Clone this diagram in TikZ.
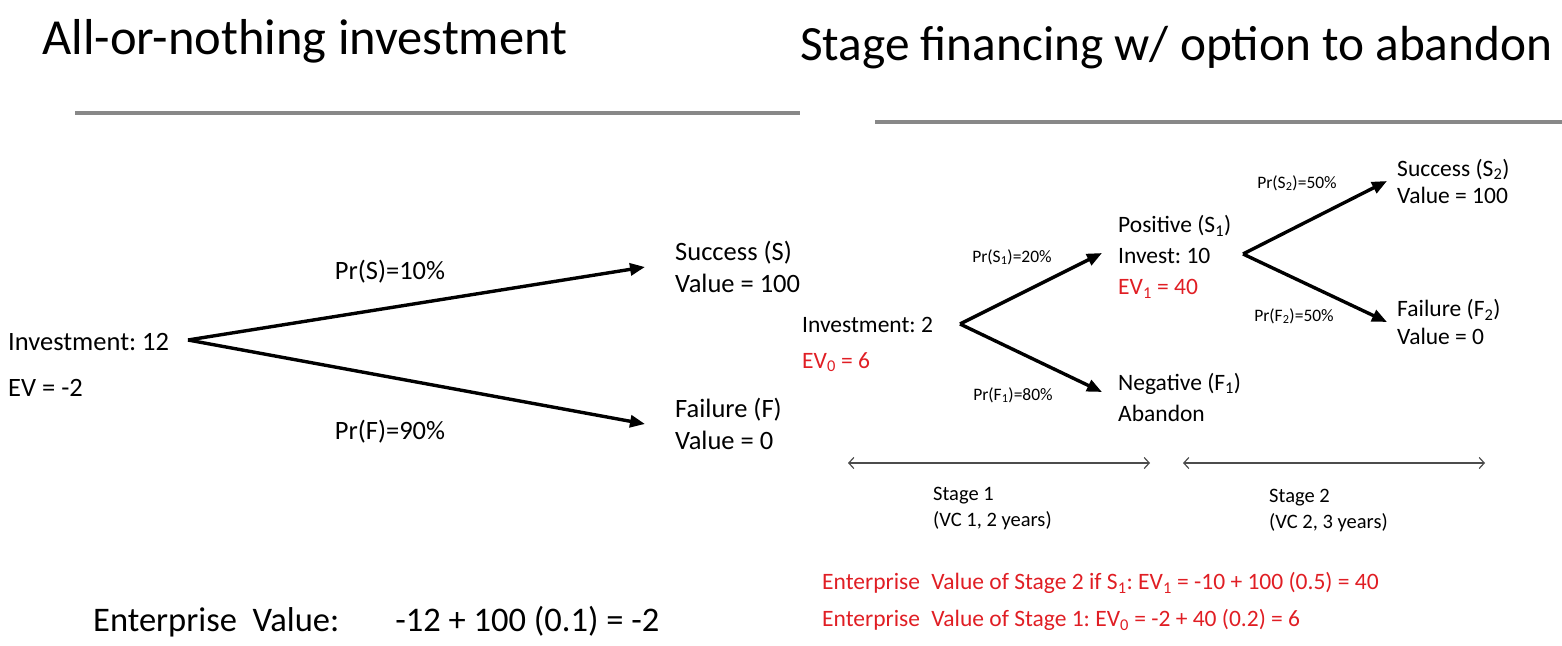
\documentclass[tikz,border=0pt]{standalone}
\usepackage{fontspec}
\setmainfont{Carlito}
\usetikzlibrary{arrows.meta}
\definecolor{evred}{RGB}{224,30,36}
\definecolor{rulegray}{RGB}{136,136,136}
\frenchspacing

\begin{document}
\begin{tikzpicture}[x=1pt,y=-1pt,
  branch/.style={-{Triangle[length=15pt,width=12pt]},line width=3.4pt},
  span/.style={{Straight Barb[length=5pt,width=11pt]}-{Straight Barb[length=5pt,width=11pt]},line width=1.2pt,black!70},
  ttl/.style={inner sep=0pt,anchor=base west,font=\fontsize{50.5}{60}\selectfont},
  big/.style={inner sep=0pt,anchor=west,align=left,font=\fontsize{26.5}{32}\selectfont},
  mid/.style={inner sep=0pt,anchor=west,align=left,font=\fontsize{23.5}{31}\selectfont},
  small/.style={inner sep=0pt,font=\fontsize{17.5}{21}\selectfont},
  note/.style={inner sep=0pt,anchor=west,align=left,font=\fontsize{20.5}{26}\selectfont}]
  \useasboundingbox (0,0) rectangle (1562,645);
  % headings
  \node[ttl] (ttlA) at (42,54) {All-or-nothing investment};
  \node[ttl,font=\fontsize{49.3}{59}\selectfont] (ttlB) at (800,60) {Stage financing w/ option to abandon};
  \draw[rulegray,line width=4pt] (75,113)--(800,113);
  \draw[rulegray,line width=4pt] (875,122)--(1562,122);
  % all-or-nothing tree
  \coordinate (rootA) at (188,340);
  \node[big] (invA) at (8,342) {Investment: 12};
  \node[big] (evA) at (8,388) {EV = -2};
  \node[big] (succA) at (675,267) {Success (S)\\Value = 100};
  \node[big] (failA) at (675,424) {Failure (F)\\Value = 0};
  \draw[branch] (rootA)--([xshift=-30pt]succA.west);
  \draw[branch] (rootA)--([xshift=-30pt]failA.west);
  \node[big,anchor=center] (prS) at (390,272) {Pr(S)=10\%};
  \node[big,anchor=center] (prF) at (390,432) {Pr(F)=90\%};
  \node[inner sep=0pt,anchor=west,font=\fontsize{34.5}{41}\selectfont] (entA) at (93,622)
    {Enterprise\hspace{8pt} Value:\hspace{56pt}-12 + 100 (0.1) = -2};
  % staged tree, stage 1
  \coordinate (rootB) at (960,324);
  \node[mid] (invB) at (802,325) {Investment: 2};
  \node[mid,text=evred] (evB) at (802,362) {EV\textsubscript{0} = 6};
  \node[mid] (posB) at (1118,257) {Positive (S\textsubscript{1})\\Invest: 10\\\textcolor{evred}{EV\textsubscript{1} = 40}};
  \node[mid] (negB) at (1118,397) {Negative (F\textsubscript{1})\\Abandon};
  \draw[branch] (rootB)--([xshift=-16pt,yshift=4pt]posB.west);
  \draw[branch] (rootB)--([xshift=-16pt,yshift=5pt]negB.west);
  \node[small] (prS1) at (1012,257) {Pr(S\textsubscript{1})=20\%};
  \node[small] (prF1) at (1013,395) {Pr(F\textsubscript{1})=80\%};
  % stage 2
  \coordinate (rootC) at (1243,254);
  \node[mid,font=\fontsize{23.5}{27}\selectfont] (succC) at (1397,181) {Success (S\textsubscript{2})\\Value = 100};
  \node[mid,font=\fontsize{23.5}{28}\selectfont] (failC) at (1397,322) {Failure (F\textsubscript{2})\\Value = 0};
  \draw[branch] (rootC)--([xshift=-10pt]succC.west);
  \draw[branch] (rootC)--([xshift=-10pt]failC.west);
  \node[small] (prS2) at (1297,183) {Pr(S\textsubscript{2})=50\%};
  \node[small] (prF2) at (1294,316) {Pr(F\textsubscript{2})=50\%};
  % stage spans
  \coordinate (s1L) at (848,463);
  \coordinate (s1R) at (1150,463);
  \coordinate (s2L) at (1183,463);
  \coordinate (s2R) at (1485,463);
  \draw[span] (s1L)--(s1R);
  \draw[span] (s2L)--(s2R);
  \node[note] (stg1) at (933,508) {Stage 1\\(VC 1, 2 years)};
  \node[note] (stg2) at (1269,510) {Stage 2\\(VC 2, 3 years)};
  % red summary
  \node[mid,text=evred] (ev1txt) at (822,583)
    {Enterprise\hspace{6pt} Value of Stage 2 if S\textsubscript{1}: EV\textsubscript{1} = -10 + 100 (0.5) = 40};
  \node[mid,text=evred] (ev0txt) at (822,620)
    {Enterprise\hspace{6pt} Value of Stage 1: EV\textsubscript{0} = -2 + 40 (0.2) = 6};
\end{tikzpicture}
\end{document}
